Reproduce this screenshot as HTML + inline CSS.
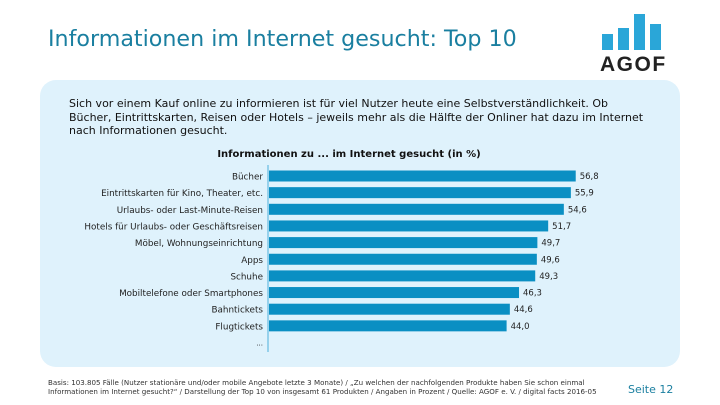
<!DOCTYPE html>
<html><head><meta charset="utf-8"><style>
body{margin:0;width:720px;height:405px;background:#fff;font-family:"Liberation Sans","DejaVu Sans",sans-serif;position:relative;overflow:hidden}
#title{position:absolute;left:48px;top:26px;font-size:22.2px;color:#1a7fa0;font-family:"DejaVu Sans",sans-serif;white-space:nowrap}
#panel{position:absolute;left:40px;top:80px;width:640px;height:287px;background:#dff2fc;border-radius:16px}
#intro{position:absolute;left:69px;top:97px;font-size:11px;line-height:13.5px;color:#111;font-family:"DejaVu Sans",sans-serif;white-space:nowrap}
#foot{position:absolute;left:48px;top:378px;font-size:7.1px;line-height:9px;color:#333;white-space:nowrap;font-family:"DejaVu Sans",sans-serif}
#page{position:absolute;left:628px;top:383px;font-size:11px;color:#1a7fa0;font-family:"DejaVu Sans",sans-serif}
svg{position:absolute;left:0;top:0}
</style></head><body>
<div id="title">Informationen im Internet gesucht: Top 10</div>
<svg width="720" height="80">
<rect x="602" y="34" width="11" height="16" fill="#2aa6d8"/>
<rect x="618" y="28" width="11" height="22" fill="#2aa6d8"/>
<rect x="634" y="14" width="11" height="36" fill="#2aa6d8"/>
<rect x="650" y="24" width="11" height="26" fill="#2aa6d8"/>
<text x="600" y="71" font-size="21" font-weight="bold" fill="#222" font-family="Liberation Sans" letter-spacing="1.5">AGOF</text>
</svg>
<div id="panel"></div>
<div id="intro">Sich vor einem Kauf online zu informieren ist für viel Nutzer heute eine Selbstverständlichkeit. Ob<br>Bücher, Eintrittskarten, Reisen oder Hotels – jeweils mehr als die Hälfte der Onliner hat dazu im Internet<br>nach Informationen gesucht.</div>
<svg id="chart" width="720" height="405"></svg>
<div id="foot">Basis: 103.805 Fälle (Nutzer stationäre und/oder mobile Angebote letzte 3 Monate) / „Zu welchen der nachfolgenden Produkte haben Sie schon einmal<br>Informationen im Internet gesucht?“ / Darstellung der Top 10 von insgesamt 61 Produkten / Angaben in Prozent / Quelle: AGOF e. V. / digital facts 2016-05</div>
<div id="page">Seite 12</div>
<script>
const categories=["Bücher","Eintrittskarten für Kino, Theater, etc.","Urlaubs- oder Last-Minute-Reisen","Hotels für Urlaubs- oder Geschäftsreisen","Möbel, Wohnungseinrichtung","Apps","Schuhe","Mobiltelefone oder Smartphones","Bahntickets","Flugtickets"];
const values=[56.8,55.9,54.6,51.7,49.7,49.6,49.3,46.3,44.6,44.0];
const labels=["56,8","55,9","54,6","51,7","49,7","49,6","49,3","46,3","44,6","44,0"];
const NS="http://www.w3.org/2000/svg";
const svg=document.getElementById('chart');
const x0=269, pxPer=5.4, y0=176, step=16.65, bh=11;
const xs=v=>x0+v*pxPer, ys=i=>y0+i*step;
function mk(t,a){const e=document.createElementNS(NS,t);for(const k in a)e.setAttribute(k,a[k]);svg.appendChild(e);return e;}
let t=mk('text',{x:349,y:157,'font-size':10,'font-weight':'bold','text-anchor':'middle',fill:'#111','font-family':'DejaVu Sans'});
t.textContent="Informationen zu ... im Internet gesucht (in %)";


categories.forEach((c,i)=>{
 const r=mk('rect',{x:x0,y:ys(i)-bh/2,width:xs(values[i])-x0,height:bh,fill:'#0a8fc3'});
 
 
 const l=mk('text',{x:263,y:ys(i)+3.5,'font-size':8.8,'text-anchor':'end',fill:'#222','font-family':'DejaVu Sans'});
 l.textContent=c;
 
 
 const v=mk('text',{x:xs(values[i])+4,y:ys(i)+3,'font-size':8.5,fill:'#222','font-family':'DejaVu Sans'});
 v.textContent=labels[i];
 
 
});
const d=mk('text',{x:263,y:ys(10)+3,'font-size':8,'text-anchor':'end',fill:'#222'});d.textContent="...";


const ax=mk('line',{x1:x0-1,x2:x0-1,y1:165,y2:352,stroke:'#7fc6e6','stroke-width':1.5});


</script>
</body></html>
